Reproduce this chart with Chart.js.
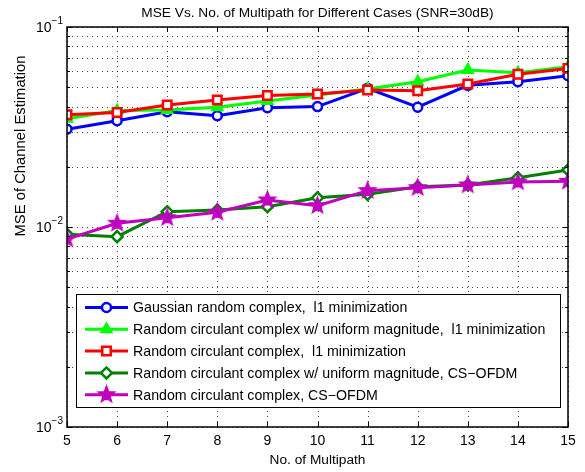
<!DOCTYPE html>
<html lang="en">
<head>
    <meta charset="UTF-8">
    <title>MSE Vs. No. of Multipath</title>
    <script src="https://cdn.jsdelivr.net/npm/chart.js"></script>
    <style>
        body { margin: 0; background: #fff; }
        .chart-container { width: 585px; height: 472px; position: relative; }
    </style>
</head>
<body>
    <div class="chart-container">
        <canvas id="mseChart"></canvas>
    </div>
    <script>
        // data
        const multipath = [5, 6, 7, 8, 9, 10, 11, 12, 13, 14, 15];
        const gaussL1   = [0.0308, 0.0340, 0.0377, 0.0360, 0.0395, 0.0400, 0.0494, 0.0397, 0.0511, 0.0533, 0.0571];
        const circUniL1 = [0.0348, 0.0382, 0.0385, 0.0397, 0.0427, 0.0457, 0.0490, 0.0533, 0.0610, 0.0591, 0.0633];
        const circL1    = [0.0364, 0.0374, 0.0407, 0.0432, 0.0454, 0.0462, 0.0484, 0.0480, 0.0519, 0.0580, 0.0621];
        const circUniCS = [0.00919, 0.00895, 0.01193, 0.01216, 0.01264, 0.0140, 0.01456, 0.01591, 0.01622, 0.01765, 0.01928];
        const circCS    = [0.00871, 0.01044, 0.01113, 0.01184, 0.01365, 0.01279, 0.01520, 0.01573, 0.01622, 0.01679, 0.01692];

        const seriesLabels = [
            'Gaussian random complex,  l1 minimization',
            'Random circulant complex w/ uniform magnitude,  l1 minimization',
            'Random circulant complex,  l1 minimization',
            'Random circulant complex w/ uniform magnitude, CS\u2212OFDM',
            'Random circulant complex, CS\u2212OFDM'
        ];
        const xTicks = [5, 6, 7, 8, 9, 10, 11, 12, 13, 14, 15];
        const yDecades = [0.001, 0.01, 0.1];

        const FONT = '"Liberation Sans", Arial, sans-serif';
        const MAGENTA = '#bf00bf';

        // pentagram marker (Chart.js has no five-point star)
        function makeStar(color, outer) {
            const c = document.createElement('canvas');
            const s = Math.ceil(outer * 2 + 4);
            c.width = s; c.height = s;
            const ctx = c.getContext('2d');
            const inner = outer * 0.42;
            ctx.beginPath();
            for (let i = 0; i < 10; i++) {
                const r = i % 2 === 0 ? outer : inner;
                const a = -Math.PI / 2 + i * Math.PI / 5;
                const px = s / 2 + r * Math.cos(a);
                const py = s / 2 + r * Math.sin(a);
                if (i === 0) ctx.moveTo(px, py); else ctx.lineTo(px, py);
            }
            ctx.closePath();
            ctx.fillStyle = color;
            ctx.fill();
            ctx.lineWidth = 1.5;
            ctx.strokeStyle = color;
            ctx.stroke();
            return c;
        }
        const starImg = makeStar(MAGENTA, 8.5);

        const styles = [
            { color: '#0000ff', point: 'circle', radius: 4.5, fill: '#ffffff', bw: 2.5 },
            { color: '#00ff00', point: 'triangle', radius: 6.5, fill: '#00ff00', bw: 1.5 },
            { color: '#ff0000', point: 'rect', radius: 6, fill: '#ffffff', bw: 2.5 },
            { color: '#008000', point: 'rectRot', radius: 5.5, fill: '#ffffff', bw: 2.5 },
            { color: MAGENTA, point: starImg, radius: 8, fill: MAGENTA, bw: 1 }
        ];
        const allSeries = [gaussL1, circUniL1, circL1, circUniCS, circCS];

        const datasets = allSeries.map((vals, i) => ({
            label: seriesLabels[i],
            data: multipath.map((x, j) => ({ x: x, y: vals[j] })),
            borderColor: styles[i].color,
            backgroundColor: styles[i].fill,
            borderWidth: 3,
            pointStyle: styles[i].point,
            pointRadius: styles[i].radius,
            pointBorderColor: styles[i].color,
            pointBackgroundColor: styles[i].fill,
            pointBorderWidth: styles[i].bw,
            tension: 0,
            order: 5 - i
        }));

        function drawMarker(ctx, st, x, y) {
            if (st.point instanceof HTMLCanvasElement) {
                ctx.drawImage(st.point, x - st.point.width / 2, y - st.point.height / 2);
                return;
            }
            ctx.save();
            ctx.lineWidth = st.bw;
            ctx.strokeStyle = st.color;
            ctx.fillStyle = st.fill;
            Chart.helpers.drawPoint(ctx, { pointStyle: st.point, radius: st.radius, rotation: 0, borderWidth: st.bw }, x, y);
            ctx.restore();
        }

        const matlabAxes = {
            id: 'matlabAxes',
            beforeDraw(chart) {
                const ctx = chart.ctx;
                ctx.save();
                ctx.fillStyle = '#fff';
                ctx.fillRect(0, 0, chart.width, chart.height);
                ctx.restore();
            },
            // dotted grid under the lines
            beforeDatasetsDraw(chart) {
                const ctx = chart.ctx;
                const area = chart.chartArea;
                const xs = chart.scales.x, ys = chart.scales.y;
                ctx.save();
                ctx.strokeStyle = 'rgba(0,0,0,0.75)';
                ctx.lineWidth = 1;
                ctx.setLineDash([1, 4]);
                ctx.beginPath();
                xTicks.forEach(v => {
                    const px = Math.round(xs.getPixelForValue(v)) + 0.5;
                    ctx.moveTo(px, area.bottom); ctx.lineTo(px, area.top);
                });
                ys.ticks.forEach(t => {
                    const py = Math.round(ys.getPixelForValue(t.value)) + 0.5;
                    ctx.moveTo(area.left, py); ctx.lineTo(area.right, py);
                });
                ctx.stroke();
                ctx.restore();
            },
            afterDraw(chart) {
                const ctx = chart.ctx;
                const area = chart.chartArea;
                const xs = chart.scales.x, ys = chart.scales.y;
                ctx.save();

                // box
                ctx.strokeStyle = '#000';
                ctx.lineWidth = 1.5;
                ctx.strokeRect(area.left, area.top, area.right - area.left, area.bottom - area.top);

                // inward tick marks
                ctx.lineWidth = 1;
                ctx.beginPath();
                xTicks.forEach(v => {
                    const px = Math.round(xs.getPixelForValue(v)) + 0.5;
                    ctx.moveTo(px, area.bottom); ctx.lineTo(px, area.bottom - 5);
                    ctx.moveTo(px, area.top); ctx.lineTo(px, area.top + 5);
                });
                ys.ticks.forEach(t => {
                    const py = Math.round(ys.getPixelForValue(t.value)) + 0.5;
                    const major = yDecades.some(d => Math.abs(d - t.value) < 1e-9);
                    const len = major ? 5 : 3;
                    ctx.moveTo(area.left, py); ctx.lineTo(area.left + len, py);
                    ctx.moveTo(area.right, py); ctx.lineTo(area.right - len, py);
                });
                ctx.stroke();

                // x tick labels
                ctx.fillStyle = '#000';
                ctx.font = '14px ' + FONT;
                ctx.textAlign = 'center';
                ctx.textBaseline = 'middle';
                xTicks.forEach(v => ctx.fillText(String(v), xs.getPixelForValue(v), area.bottom + 14));

                // y tick labels as 10^n
                yDecades.forEach(d => {
                    const py = ys.getPixelForValue(d);
                    const exp = '\u2212' + Math.round(-Math.log10(d));
                    ctx.font = '10px ' + FONT;
                    const ew = ctx.measureText(exp).width;
                    ctx.textAlign = 'left';
                    ctx.textBaseline = 'middle';
                    const right = area.left - 4;
                    ctx.fillText(exp, right - ew, py - 6);
                    ctx.font = '14px ' + FONT;
                    ctx.textAlign = 'right';
                    ctx.fillText('10', right - ew, py + 1);
                });

                // axis titles and chart title
                ctx.font = '13.7px ' + FONT;
                ctx.textAlign = 'center';
                ctx.fillText('No. of Multipath', (area.left + area.right) / 2, area.bottom + 33);
                ctx.fillText('MSE Vs. No. of Multipath for Different Cases (SNR=30dB)', (area.left + area.right) / 2, 13);
                ctx.save();
                ctx.font = '14.8px ' + FONT;
                ctx.translate(21, 146);
                ctx.rotate(-Math.PI / 2);
                ctx.fillText('MSE of Channel Estimation', 0, 0);
                ctx.restore();

                // legend
                const lx = 76.5, ly = 294.5, lw = 484, lh = 113;
                ctx.fillStyle = '#fff';
                ctx.fillRect(lx, ly, lw, lh);
                ctx.strokeStyle = '#000';
                ctx.lineWidth = 1;
                ctx.strokeRect(lx, ly, lw, lh);
                ctx.font = '14.2px ' + FONT;
                ctx.textAlign = 'left';
                ctx.textBaseline = 'middle';
                seriesLabels.forEach((lab, i) => {
                    const y = 307.5 + i * 21.8;
                    const st = styles[i];
                    ctx.strokeStyle = st.color;
                    ctx.lineWidth = 3;
                    ctx.beginPath();
                    ctx.moveTo(85, y); ctx.lineTo(128, y);
                    ctx.stroke();
                    drawMarker(ctx, st, 106.5, y);
                    ctx.fillStyle = '#000';
                    ctx.fillText(lab, 133, y + 1);
                });
                ctx.restore();
            }
        };

        new Chart(document.getElementById('mseChart'), {
            type: 'line',
            data: { datasets: datasets },
            options: {
                responsive: true,
                maintainAspectRatio: false,
                animation: false,
                layout: { padding: { left: 67, top: 27, right: 17, bottom: 45 } },
                plugins: { legend: { display: false }, tooltip: { enabled: false } },
                scales: {
                    x: {
                        type: 'linear',
                        min: 5,
                        max: 15,
                        afterBuildTicks: scale => { scale.ticks = xTicks.map(v => ({ value: v })); },
                        ticks: { display: false },
                        grid: { display: false, drawTicks: false },
                        border: { display: false }
                    },
                    y: {
                        type: 'logarithmic',
                        min: 0.001,
                        max: 0.1,
                        afterBuildTicks: scale => {
                            const t = [];
                            [0.001, 0.01].forEach(d => { for (let k = 1; k < 10; k++) t.push({ value: d * k }); });
                            t.push({ value: 0.1 });
                            scale.ticks = t;
                        },
                        ticks: { display: false },
                        grid: { display: false, drawTicks: false },
                        border: { display: false }
                    }
                }
            },
            plugins: [matlabAxes]
        });
    </script>
</body>
</html>
